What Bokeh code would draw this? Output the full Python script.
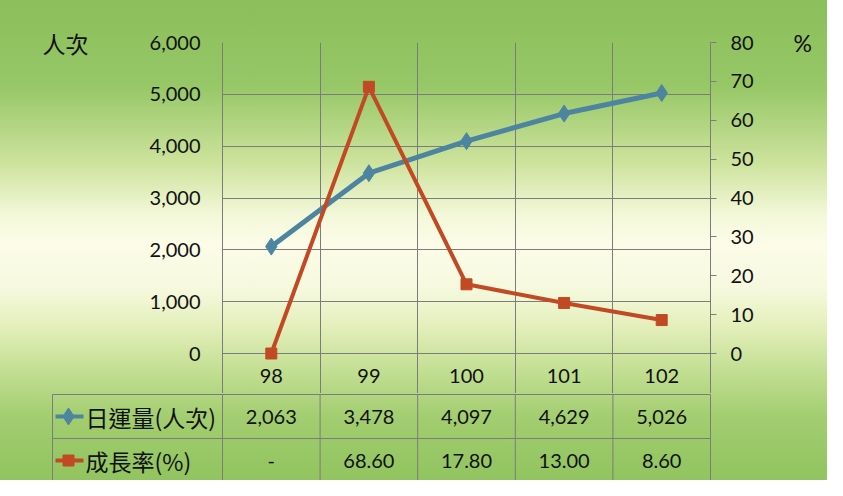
from bokeh.plotting import figure
from bokeh.models import (Range1d, LinearAxis, FixedTicker, NumeralTickFormatter, Grid)
from bokeh.layouts import column
from bokeh.embed import file_html
from bokeh.resources import INLINE
from bokeh.core.properties import value

# ---------------- data ----------------
years = ["98", "99", "100", "101", "102"]
visits = [2063, 3478, 4097, 4629, 5026]          # 日運量(人次)
growth = [0.0, 68.60, 17.80, 13.00, 8.60]         # 成長率(%)
growth_labels = ["-", "68.60", "17.80", "13.00", "8.60"]
visit_ticks = [0, 1000, 2000, 3000, 4000, 5000, 6000]
pct_ticks = [0, 10, 20, 30, 40, 50, 60, 70, 80]
series_names = ["日運量(人次)", "成長率(%)"]
left_unit = "人次"
right_unit = "%"

# ---------------- styling / layout ----------------
BLUE = "#4d85a0"
RED = "#c14a25"
GRID = "#7c7c7c"
TXT = "#111111"
NUM_FONT = "Lato"
CJK_FONT = "Noto Sans CJK TC"
W, H = 827, 480
FL, FR = 222, 710        # chart frame left/right (px)
FT, Z = 42, 353          # chart frame top / zero line (px)
HDR = 393                # bottom of header row (px)
n = len(years)
cell = (FR - FL) / n
ymax, pmax = visit_ticks[-1], pct_ticks[-1]
per_px = ymax / (Z - FT)
xs = [i + 0.5 for i in range(n)]


def xd(px):
    return (px - FL) / cell


def no_align(fig):
    if "frame_align" in fig.properties():
        fig.frame_align = False


# ================= top figure: chart + header row =================
p = figure(width=W, height=HDR, output_backend="svg", toolbar_location=None,
           x_range=Range1d(0, n), y_range=Range1d(-(HDR - Z) * per_px, ymax),
           min_border_left=FL, min_border_right=W - FR, min_border_top=FT,
           min_border_bottom=0, x_axis_location=None, y_axis_location=None)
no_align(p)
p.extra_y_ranges = {"pct": Range1d(-(HDR - Z) * pmax / (Z - FT), pmax)}
p.background_fill_alpha = 0
p.border_fill_alpha = 0
p.outline_line_color = None
p.xgrid.visible = False
p.ygrid.visible = False


def style_axis(ax, font, size, standoff, tick_out=0, line=True):
    ax.axis_line_color = GRID if line else None
    ax.major_tick_out = tick_out
    ax.major_tick_in = 0
    ax.major_tick_line_color = GRID if tick_out else None
    ax.minor_tick_out = 0
    ax.minor_tick_in = 0
    ax.major_label_standoff = standoff
    ax.major_label_text_font = font
    ax.major_label_text_font_size = size
    ax.major_label_text_color = TXT


yl = LinearAxis(ticker=FixedTicker(ticks=visit_ticks),
                formatter=NumeralTickFormatter(format="0,0"))
style_axis(yl, NUM_FONT, "20px", 22)
p.add_layout(yl, "left")

# unit label "人次" shown as the label of an outer axis tick
yl_unit = LinearAxis(ticker=FixedTicker(ticks=[ymax]),
                     major_label_overrides={ymax: left_unit})
style_axis(yl_unit, CJK_FONT, "23px", 58, line=False)
p.add_layout(yl_unit, "left")

yr = LinearAxis(y_range_name="pct", ticker=FixedTicker(ticks=pct_ticks))
style_axis(yr, NUM_FONT, "20px", 14, tick_out=6)
p.add_layout(yr, "right")

yr_unit = LinearAxis(y_range_name="pct", ticker=FixedTicker(ticks=[pmax]),
                     major_label_overrides={pmax: right_unit})
style_axis(yr_unit, NUM_FONT, "23px", 37, line=False)
p.add_layout(yr_unit, "right")

p.add_layout(Grid(dimension=1, ticker=FixedTicker(ticks=visit_ticks),
                  grid_line_color=GRID, grid_line_width=1))
p.add_layout(Grid(dimension=0, ticker=FixedTicker(ticks=list(range(1, n))),
                  grid_line_color=GRID, grid_line_width=1))

p.line(xs, visits, line_color=BLUE, line_width=5)
p.scatter(xs, visits, marker="diamond", size=17, fill_color=BLUE, line_color=BLUE)
p.line(xs, growth, line_color=RED, line_width=4, y_range_name="pct")
p.scatter(xs, growth, marker="square", size=11, fill_color=RED, line_color=RED,
          y_range_name="pct")

p.text(xs, [-(375 - Z) * per_px] * n, text=years, text_align="center",
       text_baseline="middle", text_font=value(NUM_FONT), text_font_size="20px",
       text_color=TXT)

# ================= bottom figure: data table =================
TL, TR = 50, 712                 # frame px (slightly wider than table lines)
BH = H - HDR                     # 87 px
q = figure(width=W, height=BH, output_backend="svg", toolbar_location=None,
           x_range=Range1d(xd(TL), xd(TR)), y_range=Range1d(0, BH),
           min_border_left=TL, min_border_right=W - TR, min_border_top=0,
           min_border_bottom=0, x_axis_location=None, y_axis_location=None)
no_align(q)
q.background_fill_alpha = 0
q.border_fill_alpha = 0
q.outline_line_color = None
q.xgrid.visible = False
q.ygrid.visible = False


def yb(px):                      # page px -> bottom-figure data y
    return H - px


left_edge = xd(52)
row_lines = [yb(394), yb(438)]
q.segment(x0=[left_edge] * 2, y0=row_lines, x1=[n] * 2, y1=row_lines,
          line_color=GRID, line_width=1)
q.segment(x0=[left_edge] + list(range(n + 1)), y0=[row_lines[0]] * (n + 2),
          x1=[left_edge] + list(range(n + 1)), y1=[0] * (n + 2),
          line_color=GRID, line_width=1)

row_y = [yb(416), yb(460)]
q.text(xs, [row_y[0]] * n, text=[f"{v:,}" for v in visits], text_align="center",
       text_baseline="middle", text_font=value(NUM_FONT), text_font_size="20px",
       text_color=TXT)
q.text(xs, [row_y[1]] * n, text=growth_labels, text_align="center",
       text_baseline="middle", text_font=value(NUM_FONT), text_font_size="20px",
       text_color=TXT)

# legend keys
for cy, col, mk, sz in [(row_y[0], BLUE, "diamond", 17), (row_y[1], RED, "square", 11)]:
    q.line([xd(55), xd(83)], [cy, cy], line_color=col, line_width=4)
    q.scatter([xd(68)], [cy], marker=mk, size=sz, fill_color=col, line_color=col)
q.text([xd(85)] * 2, row_y, text=series_names, text_align="left",
       text_baseline="middle", text_font=value(CJK_FONT), text_font_size="23px",
       text_color=TXT)

layout = column(p, q, spacing=0)
layout.styles = {"background": "linear-gradient(to bottom, #8bbf5b 0%, #97c767 18%, "
                 "#cde39d 34%, #f4f8da 45%, #fcfce8 51%, #f6f9de 60%, #e4efbb 68%, "
                 "#c3df93 77%, #a2cd70 87%, #91c45f 100%)"}

open("out.html", "w").write(file_html(layout, INLINE))
